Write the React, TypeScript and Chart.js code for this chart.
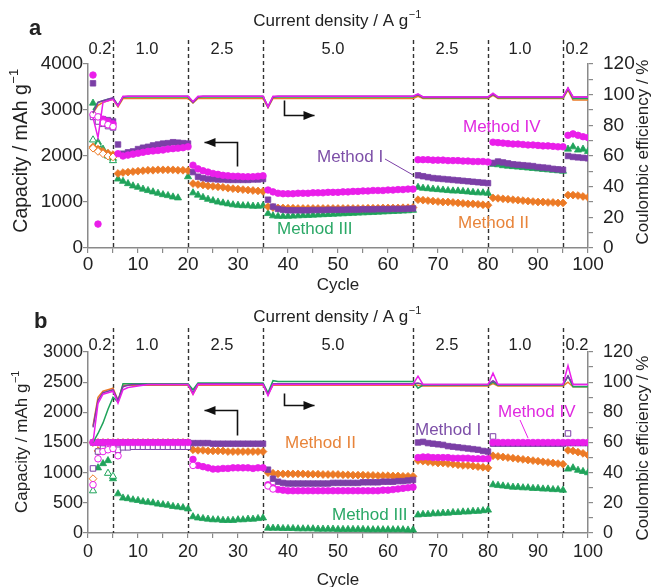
import React, { useEffect, useRef } from 'react';
import { Chart, registerables } from 'chart.js';
Chart.register(...registerables);

const FONT = "'Liberation Sans', Arial, Helvetica, sans-serif";
const COLORS: any = { I: '#7b3fa6', II: '#ec7a26', III: '#1fa35a', IV: '#ea1eea' };
const TEXT_COLORS: any = { I: '#7d4fa8', II: '#e8843a', III: '#2aa866', IV: '#e02ae0' };
const STYLES: any = { I: 'rect', II: 'rectRot', III: 'triangle', IV: 'circle' };
const RADII: any = { I: 3.9, II: 3.9, III: 4.1, IV: 3.3 };

const BOUNDARIES = [5, 20, 35, 65, 80, 95];
const RATE_LABELS = ['0.2', '1.0', '2.5', '5.0', '2.5', '1.0', '0.2'];
const RATE_POS = [2.4, 11.8, 26.8, 49, 71.8, 86.4, 97.8];

// ---------- Panel a: discharge capacity (mAh/g), cycles 1..100 ----------
const A_I = [
  3580, 2850, 2800, 2780, 2750,
  2250, 2050, 2080, 2100, 2150, 2180, 2200, 2230, 2250, 2270, 2280, 2300, 2290, 2280, 2270,
  1650, 1550, 1520, 1500, 1500, 1490, 1490, 1480, 1480, 1480, 1480, 1480, 1490, 1490, 1500,
  1050, 900, 850, 830, 820, 820, 820, 820, 820, 825,
  825, 825, 830, 830, 830, 830, 835, 835, 835, 840,
  840, 840, 845, 845, 845, 850, 850, 850, 855, 860,
  1580, 1560, 1540, 1520, 1510, 1500, 1490, 1480, 1470, 1460, 1450, 1440, 1430, 1420, 1410,
  1850, 1880, 1860, 1840, 1820, 1810, 1800, 1790, 1780, 1760, 1750, 1740, 1720, 1710, 1700,
  2000, 1980, 1970, 1960, 1950,
];
const A_II = [
  2200, 2150, 2100, 2060, 2030,
  1620, 1640, 1650, 1660, 1670, 1680, 1690, 1690, 1700, 1700, 1700, 1700, 1690, 1690, 1680,
  1400, 1380, 1370, 1350, 1340, 1330, 1320, 1300, 1290, 1280, 1270, 1260, 1250, 1240, 1230,
  900, 880, 870, 870, 865, 865, 860, 860, 860, 860,
  860, 860, 860, 860, 860, 860, 860, 860, 860, 860,
  865, 865, 865, 870, 870, 870, 870, 875, 875, 880,
  1050, 1040, 1030, 1020, 1010, 1000, 1000, 990, 980, 970, 960, 960, 950, 940, 930,
  1090, 1080, 1070, 1060, 1050, 1040, 1030, 1020, 1010, 1000, 1000, 990, 990, 980, 980,
  1150, 1150, 1140, 1120, 1100,
];
const A_III = [
  3150, 2300, 2150, 2050, 1950,
  1500, 1450, 1400, 1350, 1320, 1280, 1250, 1220, 1190, 1160, 1140, 1110, 1090, null, 1550,
  1200, 1150, 1100, 1060, 1030, 1000, 980, 960, 940, 930, 920, 920, 910, 910, 920,
  750, 700, 690, 690, 690, 695, 700, 705, 710, 715,
  720, 725, 730, 735, 740, 745, 750, 755, 760, 765,
  770, 775, 780, 785, 790, 795, 800, 805, 810, 820,
  1320, 1300, 1290, 1280, 1270, 1260, 1250, 1240, 1240, 1230, 1220, 1210, 1200, 1200, 1190,
  1820, 1810, 1790, 1780, 1770, 1760, 1750, 1740, 1730, 1720, 1710, 1700, 1690, 1680, 1670,
  2150, 2200, 2130, 2150, 2100,
];
const A_IV = [
  3760, 520, 2800, 2750, 2700,
  2050, 2000, 2020, 2040, 2060, 2080, 2100, 2110, 2120, 2130, 2150, 2160, 2170, 2180, 2200,
  1800, 1720, 1680, 1650, 1620, 1600, 1580, 1570, 1560, 1560, 1550, 1550, 1550, 1560, 1570,
  1260, 1220, 1190, 1180, 1180, 1180, 1190, 1190, 1190, 1200,
  1200, 1200, 1210, 1210, 1210, 1220, 1220, 1230, 1230, 1240,
  1240, 1250, 1250, 1250, 1260, 1260, 1270, 1270, 1280, 1280,
  1920, 1920, 1920, 1910, 1910, 1910, 1900, 1900, 1900, 1890, 1890, 1880, 1880, 1880, 1870,
  2300, 2290, 2280, 2270, 2260, 2260, 2250, 2240, 2240, 2230, 2220, 2220, 2210, 2200, 2200,
  2450, 2480, 2450, 2420, 2400,
];
// Panel a: charge capacity (open markers) where visible [cycle, value]
const OA_I = [[1, 2850], [2, 2750], [3, 2700], [4, 2650], [5, 2620]];
const OA_II = [[1, 2170], [2, 2100], [3, 2050], [4, 2000], [5, 1980]];
const OA_III = [[1, 2350], [2, 2250], [3, 2100], [4, 2000], [5, 1900]];
const OA_IV = [[1, 2900], [2, 2850], [3, 2720], [4, 2680], [5, 2640]];
// Panel a: Coulombic efficiency (%)
const CEA_I = [
  88, 95, 96, 97, 98,
  93, 98.5, 99, 99, 99, 99, 99, 99, 99, 99, 99, 99, 99, 99, 99,
  95, 98.5, 99, 99, 99, 99, 99, 99, 99, 99, 99, 99, 99, 99, 99,
  92, 98.5, 99, 99, 99, 99, 99, 99, 99, 99,
  99, 99, 99, 99, 99, 99, 99, 99, 99, 99,
  99, 99, 99, 99, 99, 99, 99, 99, 99, 99,
  100, 98.5, 98.5, 98.5, 98.5, 98.5, 98.5, 98.5, 98.5, 98.5, 98.5, 98.5, 98.5, 98.5, 98.5,
  100, 98.5, 98.5, 98.5, 98.5, 98.5, 98.5, 98.5, 98.5, 98.5, 98.5, 98.5, 98.5, 98.5, 98.5,
  104, 98.5, 98.5, 98.5, 98.5,
];
const CEA_II = [
  88, 93, 95, 96, 97,
  92, 97.5, 97.5, 97.5, 97.5, 97.5, 97.5, 97.5, 97.5, 97.5, 97.5, 97.5, 97.5, 97.5, 97.5,
  94.5, 97.5, 97.5, 97.5, 97.5, 97.5, 97.5, 97.5, 97.5, 97.5, 97.5, 97.5, 97.5, 97.5, 97.5,
  91.5, 97.5, 97.5, 97.5, 97.5, 97.5, 97.5, 97.5, 97.5, 97.5,
  97.5, 97.5, 97.5, 97.5, 97.5, 97.5, 97.5, 97.5, 97.5, 97.5,
  97.5, 97.5, 97.5, 97.5, 97.5, 97.5, 97.5, 97.5, 97.5, 97.5,
  99, 97.5, 97.5, 97.5, 97.5, 97.5, 97.5, 97.5, 97.5, 97.5, 97.5, 97.5, 97.5, 97.5, 97.5,
  99.5, 97.5, 97.5, 97.5, 97.5, 97.5, 97.5, 97.5, 97.5, 97.5, 97.5, 97.5, 97.5, 97.5, 97.5,
  103, 96.5, 96.5, 96.5, 96.5,
];
const CEA_III = [
  90, 95, 96, 97, 97.5,
  93, 98.5, 98.5, 98.5, 98.5, 98.5, 98.5, 98.5, 98.5, 98.5, 98.5, 98.5, 98.5, 98.5, 98.5,
  95, 98.5, 98.5, 98.5, 98.5, 98.5, 98.5, 98.5, 98.5, 98.5, 98.5, 98.5, 98.5, 98.5, 98.5,
  92, 98.5, 98.5, 98.5, 98.5, 98.5, 98.5, 98.5, 98.5, 98.5,
  98.5, 98.5, 98.5, 98.5, 98.5, 98.5, 98.5, 98.5, 98.5, 98.5,
  98.5, 98.5, 98.5, 98.5, 98.5, 98.5, 98.5, 98.5, 98.5, 98.5,
  100, 98, 98, 98, 98, 98, 98, 98, 98, 98, 98, 98, 98, 98, 98,
  100.5, 98, 98, 98, 98, 98, 98, 98, 98, 98, 98, 98, 98, 98, 98,
  104, 97.5, 97.5, 97.5, 97.5,
];
const CEA_IV = [
  85, 72, 95, 96, 97,
  92.5, 99, 99, 99, 99, 99, 99, 99, 99, 99, 99, 99, 99, 99, 99,
  95.5, 99, 99, 99, 99, 99, 99, 99, 99, 99, 99, 99, 99, 99, 99,
  92, 99, 99, 99, 99, 99, 99, 99, 99, 99,
  99, 99, 99, 99, 99, 99, 99, 99, 99, 99,
  99, 99, 99, 99, 99, 99, 99, 99, 99, 99,
  100.5, 98.5, 98.5, 98.5, 98.5, 98.5, 98.5, 98.5, 98.5, 98.5, 98.5, 98.5, 98.5, 98.5, 98.5,
  101, 98.5, 98.5, 98.5, 98.5, 98.5, 98.5, 98.5, 98.5, 98.5, 98.5, 98.5, 98.5, 98.5, 98.5,
  104.5, 98.5, 98.5, 98.5, 98.5,
];

// ---------- Panel b ----------
const B_I = [
  1500, 1500, 1500, 1500, 1500,
  1500, 1500, 1500, 1500, 1500, 1500, 1500, 1500, 1500, 1500, 1500, 1500, 1500, 1500, 1500,
  1490, 1490, 1490, 1490, 1480, 1480, 1480, 1480, 1480, 1480, 1480, 1480, 1480, 1480, 1480,
  1050, 900, 850, 830, 820, 820, 820, 820, 820, 820,
  820, 820, 820, 830, 830, 830, 830, 830, 830, 840,
  840, 840, 840, 850, 850, 850, 860, 860, 870, 880,
  1500, 1510, 1490, 1480, 1470, 1460, 1440, 1430, 1420, 1410, 1400, 1390, 1380, 1360, 1350,
  1480, 1480, 1480, 1480, 1480, 1480, 1480, 1480, 1480, 1480, 1480, 1480, 1480, 1480, 1480,
  1490, 1490, 1490, 1490, 1490,
];
const B_II = [
  1500, 1500, 1500, 1500, 1500,
  1500, 1500, 1500, 1500, 1500, 1500, 1500, 1500, 1500, 1500, 1500, 1500, 1500, 1500, 1500,
  1380, 1370, 1370, 1360, 1360, 1360, 1360, 1350, 1350, 1350, 1350, 1350, 1350, 1350, 1350,
  1000, 990, 980, 980, 980, 980, 980, 980, 975, 975,
  975, 970, 970, 970, 970, 965, 965, 960, 960, 960,
  955, 955, 950, 950, 950, 945, 945, 940, 940, 940,
  1200, 1190, 1180, 1170, 1160, 1160, 1150, 1140, 1130, 1120, 1120, 1110, 1100, 1090, 1080,
  1280, 1270, 1260, 1250, 1240, 1230, 1220, 1210, 1200, 1190, 1180, 1170, 1160, 1150, 1140,
  1370, 1360, 1340, 1320, 1290,
];
const B_III = [
  null, 1080, 1150, 1200, 900,
  650, 580, 570, 550, 540, 520, 510, 500, 480, 470, 460, 440, 430, 420, 400,
  270, 250, 240, 230, 220, 220, 210, 210, 210, 220, 220, 230, 230, 240, 250,
  80, 80, 80, 75, 75, 75, 70, 70, 70, 70,
  65, 65, 65, 65, 60, 60, 60, 60, 60, 60,
  55, 55, 55, 55, 55, 55, 55, 55, 50, 50,
  300, 310, 310, 320, 320, 330, 330, 340, 340, 350, 350, 360, 360, 370, 380,
  800, 790, 780, 770, 760, 760, 750, 750, 740, 740, 730, 730, 720, 720, 710,
  1060, 1080, 1040, 1020, 1000,
];
const B_IV = [
  1500, 1500, 1500, 1500, 1500,
  1500, 1500, 1500, 1500, 1500, 1500, 1500, 1500, 1500, 1500, 1500, 1500, 1500, 1500, 1500,
  1220, 1120, 1100, 1080, 1060, 1060, 1070, 1070, 1080, 1080, 1080, 1080, 1070, 1080, 1080,
  800, 750, 720, 710, 700, 700, 700, 700, 700, 700,
  700, 700, 700, 700, 700, 700, 700, 700, 700, 700,
  700, 700, 700, 710, 710, 720, 730, 740, 750, 760,
  1250, 1260, 1260, 1250, 1250, 1250, 1250, 1240, 1240, 1240, 1240, 1230, 1230, 1230, 1230,
  1500, 1500, 1500, 1500, 1500, 1500, 1500, 1500, 1500, 1500, 1500, 1500, 1500, 1500, 1500,
  1500, 1500, 1500, 1500, 1500,
];
const OB_I = [[1, 1070], [2, 1350], [3, 1400], [4, 1430], [5, 1450], [6, 1380],
  [7, 1420], [8, 1420], [9, 1430], [10, 1430], [11, 1430], [12, 1430], [13, 1430],
  [14, 1430], [15, 1430], [16, 1430], [17, 1430], [18, 1430], [19, 1430], [20, 1430],
  [81, 1600], [96, 1650]];
const OB_II = [[1, 900], [2, 1360], [3, 1400], [4, 1420], [5, 1450], [6, 1420]];
const OB_III = [[1, 700], [4, 990], [5, 940]];
const OB_IV = [[1, 800], [2, 1230], [3, 1350], [4, 1380], [5, 1400], [6, 1280], [21, 1120], [36, 780], [37, 730]];
const CEB_I = [
  70, 88, 93, 94, 95,
  88, 97, 98, 98.5, 98.5, 98.5, 98.5, 98.5, 98.5, 98.5, 98.5, 98.5, 98.5, 98.5, 98.5,
  93, 99, 99, 99, 99, 99, 99, 99, 99, 99, 99, 99, 99, 99, 99,
  92, 99, 99, 99, 99, 99, 99, 99, 99, 99,
  99, 99, 99, 99, 99, 99, 99, 99, 99, 99,
  99, 99, 99, 99, 99, 99, 99, 99, 99, 99,
  99.5, 98.5, 98.5, 98.5, 98.5, 98.5, 98.5, 98.5, 98.5, 98.5, 98.5, 98.5, 98.5, 98.5, 98.5,
  101, 98.5, 98.5, 98.5, 98.5, 98.5, 98.5, 98.5, 98.5, 98.5, 98.5, 98.5, 98.5, 98.5, 98.5,
  104, 98.5, 98.5, 98.5, 98.5,
];
const CEB_II = [
  71, 90, 94, 95, 96,
  88, 98, 98, 98, 98, 98, 98, 98, 98, 98, 98, 98, 98, 98, 98,
  92, 98, 98, 98, 98, 98, 98, 98, 98, 98, 98, 98, 98, 98, 98,
  92, 98, 98, 98, 98, 98, 98, 98, 98, 98,
  98, 98, 98, 98, 98, 98, 98, 98, 98, 98,
  98, 98, 98, 98, 98, 98, 98, 98, 98, 98,
  98, 97.5, 97.5, 97.5, 97.5, 97.5, 97.5, 97.5, 97.5, 97.5, 97.5, 97.5, 97.5, 97.5, 97.5,
  99, 97.5, 97.5, 97.5, 97.5, 97.5, 97.5, 97.5, 97.5, 97.5, 97.5, 97.5, 97.5, 97.5, 97.5,
  100, 97, 97, 97, 97,
];
const CEB_III = [
  60, 66, 73, 82, 90,
  87, 99, 99, 99, 99, 99, 99, 99, 99, 99, 99, 99, 99, 99, 99,
  95, 99.5, 99.5, 99.5, 99.5, 99.5, 99.5, 99.5, 99.5, 99.5, 99.5, 99.5, 99.5, 99.5, 99.5,
  93, 101, 100.5, 100.5, 100.5, 100.5, 100.5, 100.5, 100.5, 100.5,
  100.5, 100.5, 100.5, 100.5, 100.5, 100.5, 100.5, 100.5, 100.5, 100.5,
  100.5, 100.5, 100.5, 100.5, 100.5, 100.5, 100.5, 100.5, 100.5, 100.5,
  96, 98, 98, 98, 98, 98, 98, 98, 98, 98, 98, 98, 98, 98, 98,
  100, 98, 98, 98, 98, 98, 98, 98, 98, 98, 98, 98, 98, 98, 98,
  104, 97, 97, 97, 97,
];
const CEB_IV = [
  60, 86, 92, 93, 94,
  86, 95, 96.5, 97, 97.5, 98, 98.5, 98.5, 98.5, 98.5, 98.5, 98.5, 98.5, 98.5, 98.5,
  92, 98.5, 98.5, 98.5, 98.5, 98.5, 98.5, 98.5, 98.5, 98.5, 98.5, 98.5, 98.5, 98.5, 98.5,
  91, 98.5, 98.5, 98.5, 98.5, 98.5, 98.5, 98.5, 98.5, 98.5,
  98.5, 98.5, 98.5, 98.5, 98.5, 98.5, 98.5, 98.5, 98.5, 98.5,
  98.5, 98.5, 98.5, 98.5, 98.5, 98.5, 98.5, 98.5, 98.5, 98.5,
  104, 98.5, 98.5, 98.5, 98.5, 98.5, 98.5, 98.5, 98.5, 98.5, 98.5, 98.5, 98.5, 98.5, 98.5,
  106, 98.5, 98.5, 98.5, 98.5, 98.5, 98.5, 98.5, 98.5, 98.5, 98.5, 98.5, 98.5, 98.5, 98.5,
  111, 98.5, 98.5, 98.5, 98.5,
];

const PANEL_A: any = {
  letter: 'a', height: 293, top: 64, xHeight: 45, yMax: 4000, tickPad: 0,
  tickSize: 19, leftTitleSize: 19.5,
  cap: { I: A_I, II: A_II, III: A_III, IV: A_IV },
  open: { I: OA_I, II: OA_II, III: OA_III, IV: OA_IV },
  ce: { I: CEA_I, II: CEA_II, III: CEA_III, IV: CEA_IV },
  textY: { letter: 35, current: 21, rate: 49, cycle: 285, dashTop: 40, leftTitle: 151, rightTitle: 152 },
  notes: [
    { text: 'Method IV', m: 'IV', x: 75, y: 2630 },
    { text: 'Method I', m: 'I', x: 45.8, y: 1978 },
    { text: 'Method III', m: 'III', x: 37.8, y: 413 },
    { text: 'Method II', m: 'II', x: 74, y: 543 },
  ],
  leader: { m: 'I', pts: [[59.4, 1935], [65, 1587]] },
  arrows: [
    [[29.8, 1783], [29.8, 2304], [23.2, 2304]],
    [[39.2, 3217], [39.2, 2891], [45.2, 2891]],
  ],
};
const PANEL_B: any = {
  letter: 'b', height: 294, top: 59, xHeight: 54, yMax: 3000, tickPad: 3,
  tickSize: 18, leftTitleSize: 17,
  cap: { I: B_I, II: B_II, III: B_III, IV: B_IV },
  open: { I: OB_I, II: OB_II, III: OB_III, IV: OB_IV },
  ce: { I: CEB_I, II: CEB_II, III: CEB_III, IV: CEB_IV },
  textY: { letter: 35, current: 24, rate: 52, cycle: 287, dashTop: 35, leftTitle: 149, rightTitle: 155 },
  notes: [
    { text: 'Method II', m: 'II', x: 39.4, y: 1492 },
    { text: 'Method III', m: 'III', x: 48.8, y: 298 },
    { text: 'Method I', m: 'I', x: 65.4, y: 1707 },
    { text: 'Method IV', m: 'IV', x: 82, y: 2006 },
  ],
  leader: { m: 'IV', pts: [[86.4, 1873], [88, 1575]] },
  arrows: [
    [[29.8, 1624], [29.8, 2039], [23.2, 2039]],
    [[39.2, 2320], [39.2, 2122], [45.2, 2122]],
  ],
};

function supText(ctx: any, x: number, y: number, main: string, sup: string, size: number, align: string) {
  const small = Math.round(size * 0.65);
  ctx.font = `${size}px ${FONT}`;
  const w1 = ctx.measureText(main).width;
  ctx.font = `${small}px ${FONT}`;
  const w2 = ctx.measureText(sup).width;
  const x0 = align === 'center' ? x - (w1 + w2) / 2 : x;
  ctx.textAlign = 'left';
  ctx.textBaseline = 'middle';
  ctx.font = `${size}px ${FONT}`;
  ctx.fillText(main, x0, y);
  ctx.font = `${small}px ${FONT}`;
  ctx.fillText(sup, x0 + w1 + 0.5, y - size * 0.38);
}

function drawArrow(ctx: any, pts: number[][]) {
  ctx.beginPath();
  ctx.moveTo(pts[0][0], pts[0][1]);
  for (let i = 1; i < pts.length; i++) ctx.lineTo(pts[i][0], pts[i][1]);
  ctx.stroke();
  const [x1, y1] = pts[pts.length - 2];
  const [x2, y2] = pts[pts.length - 1];
  const a = Math.atan2(y2 - y1, x2 - x1);
  const L = 11, W = 4.5;
  ctx.beginPath();
  ctx.moveTo(x2, y2);
  ctx.lineTo(x2 - L * Math.cos(a) + W * Math.sin(a), y2 - L * Math.sin(a) - W * Math.cos(a));
  ctx.lineTo(x2 - L * Math.cos(a) - W * Math.sin(a), y2 - L * Math.sin(a) + W * Math.cos(a));
  ctx.closePath();
  ctx.fill();
}

function makeOverlay(p: any) {
  return {
    id: 'overlay' + p.letter,
    beforeDatasetsDraw(chart: any) {
      const { ctx, chartArea, scales } = chart;
      ctx.save();
      ctx.strokeStyle = '#333';
      ctx.lineWidth = 1.4;
      ctx.setLineDash([4, 3]);
      BOUNDARIES.forEach((b) => {
        const x = Math.round(scales.x.getPixelForValue(b)) + 0.5;
        ctx.beginPath();
        ctx.moveTo(x, p.textY.dashTop);
        ctx.lineTo(x, chartArea.bottom);
        ctx.stroke();
      });
      ctx.restore();
    },
    afterDraw(chart: any) {
      const { ctx, chartArea, scales } = chart;
      const xs = scales.x, ys = scales.y;
      ctx.save();
      ctx.fillStyle = '#222';
      ctx.font = `bold 22px ${FONT}`;
      ctx.textAlign = 'left';
      ctx.textBaseline = 'alphabetic';
      ctx.fillText(p.letter, p.letter === 'a' ? 29 : 34, p.textY.letter);
      supText(ctx, (chartArea.left + chartArea.right) / 2 - 1, p.textY.current, 'Current density / A g', '\u22121', 17, 'center');
      ctx.font = `16.5px ${FONT}`;
      ctx.textAlign = 'center';
      ctx.textBaseline = 'middle';
      RATE_LABELS.forEach((t, i) => ctx.fillText(t, xs.getPixelForValue(RATE_POS[i]), p.textY.rate));
      ctx.font = `17px ${FONT}`;
      ctx.fillText('Cycle', (chartArea.left + chartArea.right) / 2, p.textY.cycle);
      ctx.save();
      ctx.translate(22, p.textY.leftTitle);
      ctx.rotate(-Math.PI / 2);
      supText(ctx, 0, 0, 'Capacity / mAh g', '\u22121', p.leftTitleSize, 'center');
      ctx.restore();
      ctx.save();
      ctx.translate(643, p.textY.rightTitle);
      ctx.rotate(-Math.PI / 2);
      ctx.font = `17px ${FONT}`;
      ctx.textAlign = 'center';
      ctx.textBaseline = 'middle';
      ctx.fillText('Coulombic efficiency / %', 0, 0);
      ctx.restore();
      ctx.font = `17px ${FONT}`;
      ctx.textAlign = 'left';
      ctx.textBaseline = 'middle';
      p.notes.forEach((n: any) => {
        ctx.fillStyle = TEXT_COLORS[n.m];
        ctx.fillText(n.text, xs.getPixelForValue(n.x), ys.getPixelForValue(n.y));
      });
      ctx.strokeStyle = COLORS[p.leader.m];
      ctx.lineWidth = 1;
      ctx.beginPath();
      ctx.moveTo(xs.getPixelForValue(p.leader.pts[0][0]), ys.getPixelForValue(p.leader.pts[0][1]));
      ctx.lineTo(xs.getPixelForValue(p.leader.pts[1][0]), ys.getPixelForValue(p.leader.pts[1][1]));
      ctx.stroke();
      ctx.strokeStyle = '#111';
      ctx.fillStyle = '#111';
      ctx.lineWidth = 1.6;
      p.arrows.forEach((arr: number[][]) => {
        drawArrow(ctx, arr.map(([x, y]) => [Math.round(xs.getPixelForValue(x)) + 0.5, Math.round(ys.getPixelForValue(y)) + 0.5]));
      });
      ctx.restore();
    },
  };
}

function buildDatasets(p: any) {
  const ds: any[] = [];
  // index 0 ends up drawn last (on top) among equal order
  ['IV', 'I', 'III', 'II'].forEach((m) => {
    ds.push({
      label: 'CE ' + m,
      data: p.ce[m].map((v: number, i: number) => ({ x: i + 1, y: v })),
      yAxisID: 'y1', borderColor: COLORS[m], borderWidth: 1.5, pointRadius: 0,
      showLine: true, fill: false, tension: 0, order: 1,
    });
  });
  const ord: any = { IV: 2, I: 4, II: 6, III: 8 };
  ['III', 'II', 'I', 'IV'].forEach((m) => {
    ds.push({
      label: 'discharge ' + m,
      data: p.cap[m].map((v: number | null, i: number) => ({ x: i + 1, y: v })),
      yAxisID: 'y', showLine: false,
      pointStyle: STYLES[m], pointRadius: RADII[m],
      pointBackgroundColor: COLORS[m], pointBorderColor: COLORS[m], pointBorderWidth: 0.8,
      order: ord[m],
    });
    ds.push({
      label: 'charge ' + m,
      data: p.open[m].map(([x, y]: number[]) => ({ x, y })),
      yAxisID: 'y', showLine: false,
      pointStyle: STYLES[m], pointRadius: RADII[m],
      pointBackgroundColor: '#ffffff', pointBorderColor: COLORS[m], pointBorderWidth: 1,
      order: ord[m] - 0.5,
    });
  });
  return ds;
}

function Panel({ p }: { p: any }) {
  const ref = useRef<HTMLCanvasElement | null>(null);
  useEffect(() => {
    if (!ref.current) return;
    const tickFont = { size: p.tickSize, family: FONT };
    const gridCommon = { drawOnChartArea: false, tickLength: 5, color: '#8a8a8a', lineWidth: 1.2 };
    const border = { display: true, color: '#8a8a8a', width: 1.5 };
    const chart = new Chart(ref.current, {
      type: 'line',
      data: { datasets: buildDatasets(p) },
      options: {
        responsive: false,
        animation: false,
        layout: { padding: { top: p.top, left: 0, right: 0, bottom: 0 } },
        plugins: { legend: { display: false }, tooltip: { enabled: false } },
        scales: {
          x: {
            type: 'linear', min: 0, max: 100, position: 'bottom',
            afterFit: (s: any) => { s.height = p.xHeight; },
            ticks: {
              stepSize: 5, autoSkip: false, maxRotation: 0, padding: p.tickPad,
              font: tickFont, color: '#222',
              callback: (v: any) => (v % 10 === 0 ? String(v) : ''),
            },
            grid: gridCommon, border,
          },
          y: {
            type: 'linear', min: 0, max: p.yMax, position: 'left',
            afterFit: (s: any) => { s.width = 88; },
            ticks: { stepSize: 500, padding: 0, font: tickFont, color: '#222', callback: (v: any) => String(v) },
            grid: gridCommon, border,
          },
          y1: {
            type: 'linear', min: 0, max: 120, position: 'right',
            afterFit: (s: any) => { s.width = 64; },
            ticks: {
              stepSize: 10, padding: 10, font: tickFont, color: '#222', autoSkip: false,
              callback: (v: any) => (v % 20 === 0 ? String(v) : ''),
            },
            grid: gridCommon, border,
          },
        },
      } as any,
      plugins: [makeOverlay(p)],
    } as any);
    return () => chart.destroy();
  }, [p]);
  return <canvas ref={ref} width={652} height={p.height} style={{ display: 'block', width: 652, height: p.height }} />;
}

export default function App() {
  return (
    <div style={{ position: 'absolute', left: 0, top: 0, width: 652, height: 587, background: '#fff' }}>
      <Panel p={PANEL_A} />
      <Panel p={PANEL_B} />
    </div>
  );
}
